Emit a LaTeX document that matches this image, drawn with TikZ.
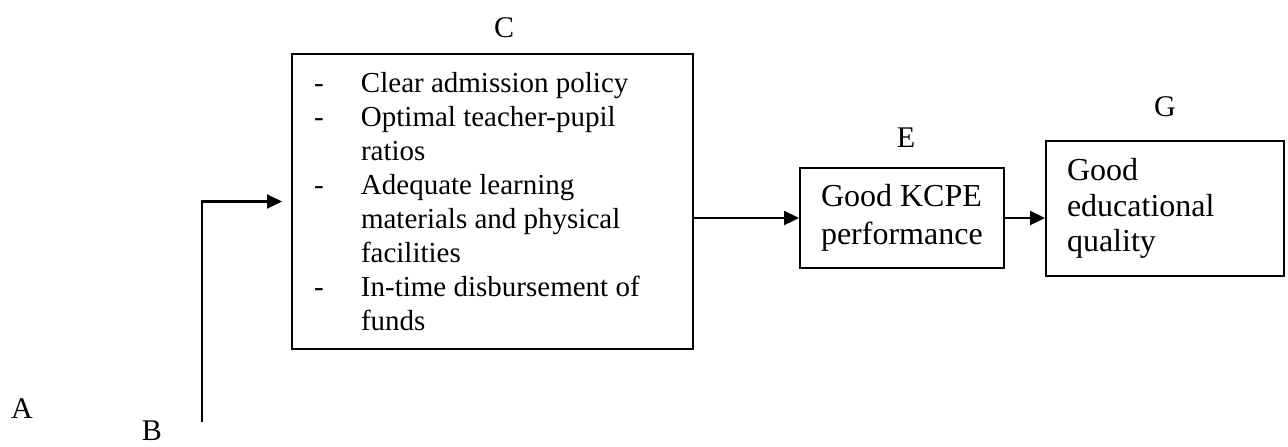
\documentclass[tikz,border=0pt]{standalone}
\usepackage{fontspec}
\setmainfont{Liberation Serif}
\usetikzlibrary{arrows.meta}
\begin{document}
\begin{tikzpicture}[x=0.5pt,y=-0.5pt,line width=1.1pt,font=\fontsize{15}{17}\selectfont,
		box/.style={draw,line width=1pt,anchor=north west,align=flush left,inner xsep=10.5pt,inner ysep=0pt},
		arr/.style={-{Triangle[length=7.5pt,width=7pt]}}]
	\useasboundingbox (0,0) rectangle (1288,446);
	\node (boxC) at (291,53) [box,font=\fontsize{14.5}{17}\selectfont,inner xsep=11pt,text width=178.5pt,minimum height=147.5pt] {\makebox[23.5pt][l]{-}Clear admission policy\\
		\makebox[23.5pt][l]{-}Optimal teacher-pupil\\
		\hspace*{23.5pt}ratios\\
		\makebox[23.5pt][l]{-}Adequate learning\\
		\hspace*{23.5pt}materials and physical\\
		\hspace*{23.5pt}facilities\\
		\makebox[23.5pt][l]{-}In-time disbursement of\\
		\hspace*{23.5pt}funds};
	\node (boxE) at (799,167) [box,font=\fontsize{16}{19}\selectfont,text width=81pt,minimum height=50pt] {Good KCPE\\performance};
	\node (boxG) at (1045,140) [box,font=\fontsize{16}{17.75}\selectfont,text width=98pt,minimum height=67.5pt] {Good\\educational\\quality};
	\node (lblA) at (22,409) {A};
	\node (lblB) at (152,431) {B};
	\node (lblC) at (504,28) {C};
	\node (lblE) at (906,138) {E};
	\node (lblG) at (1165,107) {G};
	\coordinate (B0) at (202,422);
	\draw[arr] (B0) |- ([xshift=-4.5pt]boxC.west);
	\draw[arr] (boxE.west -| boxC.east) -- (boxE.west);
	\draw[arr] (boxE.east) -- (boxE.east -| boxG.west);
\end{tikzpicture}
\end{document}
